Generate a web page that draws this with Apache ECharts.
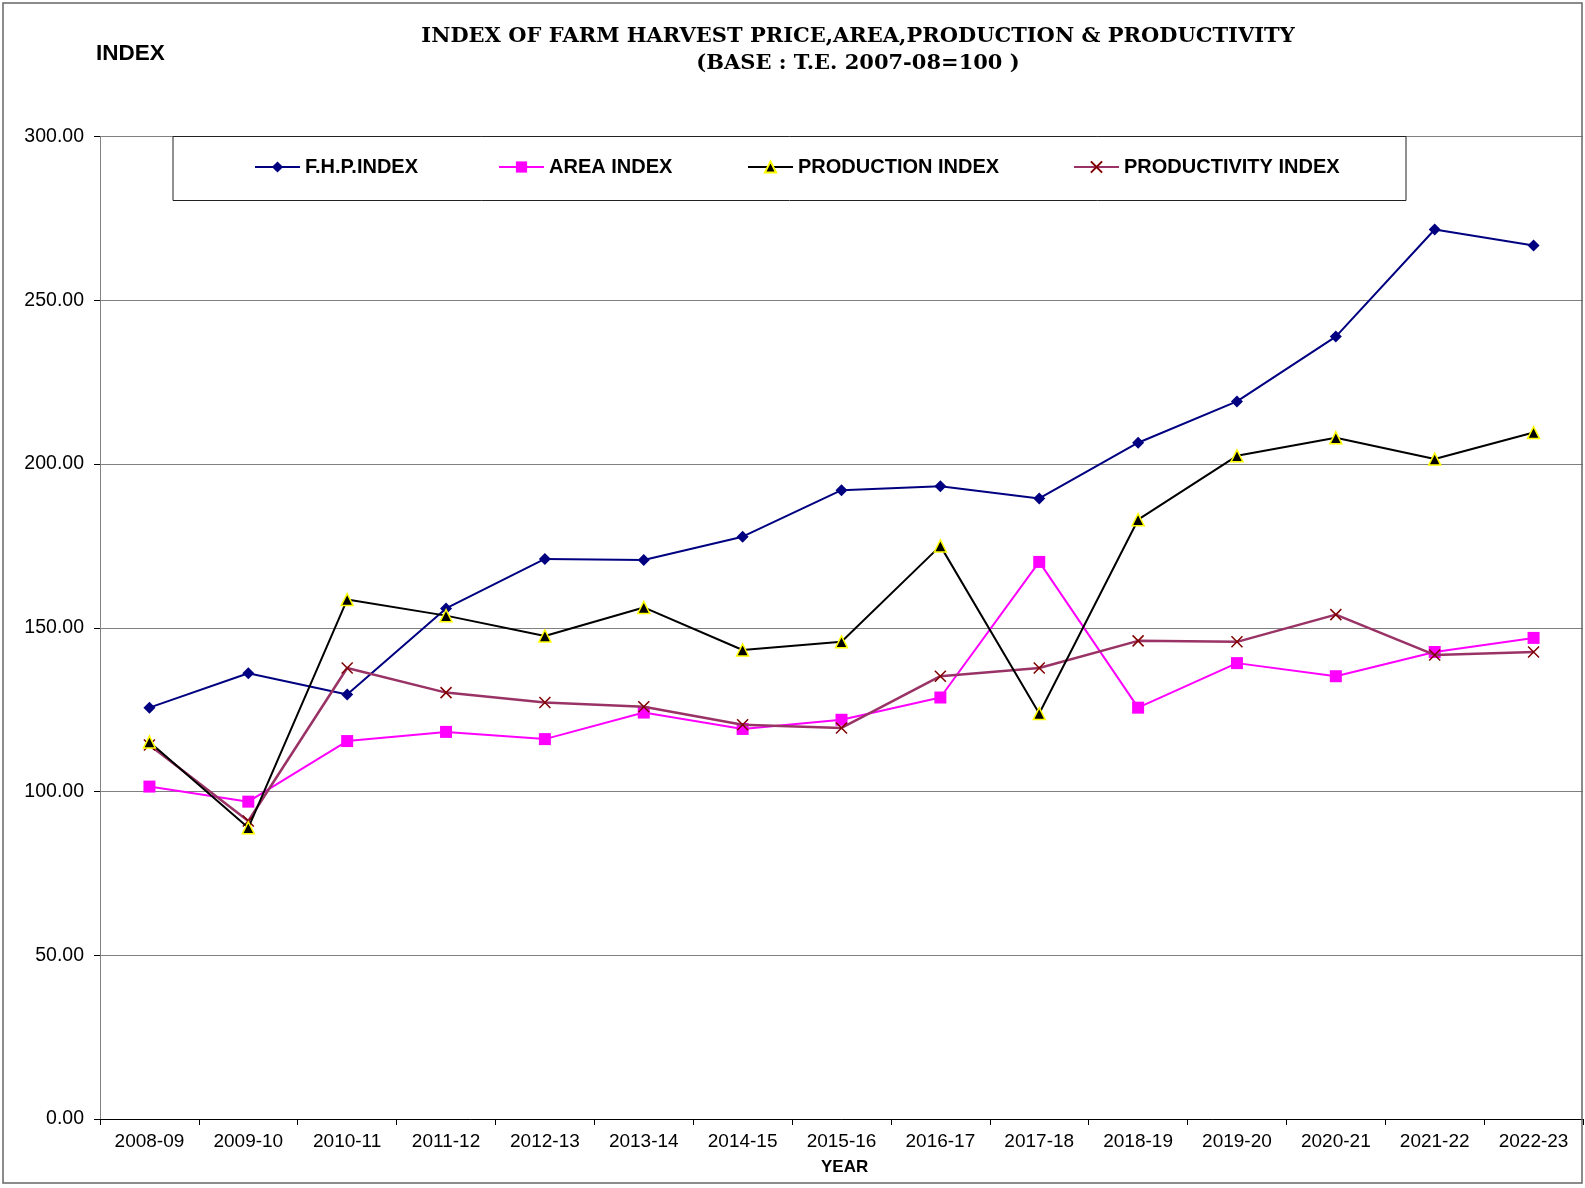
<!DOCTYPE html>
<html>
<head>
<meta charset="utf-8">
<script src="https://cdn.jsdelivr.net/npm/echarts@6/dist/echarts.min.js"></script>
<style>
    html, body {margin: 0; padding: 0; background: #fff;}
    #chart {width: 1585px; height: 1188px;}
</style>
</head>
<body>
<div id="chart"></div>
<script>
const years = ['2008-09', '2009-10', '2010-11', '2011-12', '2012-13', '2013-14', '2014-15',
    '2015-16', '2016-17', '2017-18', '2018-19', '2019-20', '2020-21', '2021-22', '2022-23'];
const fhpIndex = [125.6, 136.1, 129.6, 155.9, 171.0, 170.7, 177.8, 192.0, 193.2, 189.5, 206.5, 219.1, 238.9, 271.6, 266.7];
const areaIndex = [101.5, 96.9, 115.4, 118.2, 116.0, 124.1, 119.1, 121.9, 128.7, 170.1, 125.6, 139.2, 135.2, 142.6, 146.9];
const productionIndex = [115.1, 88.9, 158.6, 153.7, 147.5, 156.2, 143.2, 145.7, 175.0, 123.8, 183.0, 202.5, 208.0, 201.5, 209.6];
const productivityIndex = [114.2, 91.0, 137.7, 130.2, 127.2, 125.9, 120.4, 119.4, 135.2, 137.7, 146.0, 145.7, 154.0, 141.7, 142.6];
const yTicks = [0, 50, 100, 150, 200, 250, 300];

const sans = '"Liberation Sans", Arial, sans-serif';
const serif = '"DejaVu Serif", "Liberation Serif", serif';
const crossPath = 'path://M0,0L10,10M10,0L0,10';

const chart = echarts.init(document.getElementById('chart'), null, {renderer: 'canvas'});

// one legend per item so each sits where the original put it
function legendAt(name, left) {
    return {
        data: [name],
        left,
        top: 157,
        padding: 0,
        itemWidth: 45,
        itemHeight: 14,
        z: 10,
        selectedMode: false,
        textStyle: {fontFamily: sans, fontWeight: 'bold', fontSize: 20, color: '#000'},
    };
}

chart.setOption({
    animation: false,
    backgroundColor: '#fff',
    title: {
        text: 'INDEX OF FARM HARVEST PRICE,AREA,PRODUCTION & PRODUCTIVITY\n(BASE : T.E. 2007-08=100 )',
        left: 853,
        top: 18,
        textAlign: 'center',
        textStyle: {fontFamily: serif, fontWeight: 'bold', fontSize: 21, lineHeight: 27, color: '#000'},
    },
    legend: [
        legendAt('F.H.P.INDEX', 254),
        legendAt('AREA INDEX', 498),
        legendAt('PRODUCTION INDEX', 747),
        legendAt('PRODUCTIVITY INDEX', 1073),
    ],
    grid: {left: 100, right: 2, top: 136.5, bottom: 69, containLabel: false},
    xAxis: {
        type: 'category',
        data: years,
        boundaryGap: true,
        axisLine: {lineStyle: {color: '#000', width: 1}},
        axisTick: {show: true, length: 6, lineStyle: {color: '#000'}},
        axisLabel: {fontFamily: sans, fontSize: 19, color: '#000', margin: 13},
        splitLine: {show: false},
    },
    yAxis: {
        type: 'value',
        min: yTicks[0],
        max: yTicks[yTicks.length - 1],
        interval: 50,
        axisLine: {show: true, lineStyle: {color: '#808080', width: 1}},
        axisTick: {show: true, length: 6, lineStyle: {color: '#000'}},
        axisLabel: {fontFamily: sans, fontSize: 19.5, color: '#000', margin: 16, formatter: v => v.toFixed(2)},
        splitLine: {lineStyle: {color: '#808080', width: 1.2}},
    },
    graphic: [{
        type: 'rect',
        shape: {x: 3, y: 3, width: 1579, height: 1180},
        style: {fill: 'none', stroke: '#666', lineWidth: 1.5},
        z: 1,
    }, {
        type: 'rect',
        shape: {x: 173, y: 136.5, width: 1233, height: 64},
        style: {fill: '#fff', stroke: '#222', lineWidth: 1},
        z: 3,
    }, {
        type: 'text',
        left: 96,
        top: 42,
        style: {text: 'INDEX', fontFamily: sans, fontWeight: 'bold', fontSize: 22.5, fill: '#000'},
    }, {
        type: 'text',
        left: 821,
        top: 1159,
        style: {text: 'YEAR', fontFamily: sans, fontWeight: 'bold', fontSize: 17, fill: '#000'},
    }],
    series: [{
        name: 'F.H.P.INDEX',
        type: 'line',
        data: fhpIndex,
        symbol: 'diamond',
        symbolSize: 12,
        lineStyle: {color: '#000080', width: 2},
        itemStyle: {color: '#000080'},
        z: 4,
    }, {
        name: 'AREA INDEX',
        type: 'line',
        data: areaIndex,
        symbol: 'rect',
        symbolSize: 12,
        lineStyle: {color: '#ff00ff', width: 2},
        itemStyle: {color: '#ff00ff'},
        z: 3,
    }, {
        name: 'PRODUCTION INDEX',
        type: 'line',
        data: productionIndex,
        symbol: 'triangle',
        symbolSize: 12,
        lineStyle: {color: '#000', width: 2},
        itemStyle: {color: '#000', borderColor: '#ffff00', borderWidth: 1.5},
        z: 5,
    }, {
        name: 'PRODUCTIVITY INDEX',
        type: 'line',
        data: productivityIndex,
        symbol: crossPath,
        symbolSize: 11,
        lineStyle: {color: '#993366', width: 2.5},
        itemStyle: {color: '#800000', borderColor: '#800000', borderWidth: 1.5},
        z: 4,
    }],
});
</script>
</body>
</html>
